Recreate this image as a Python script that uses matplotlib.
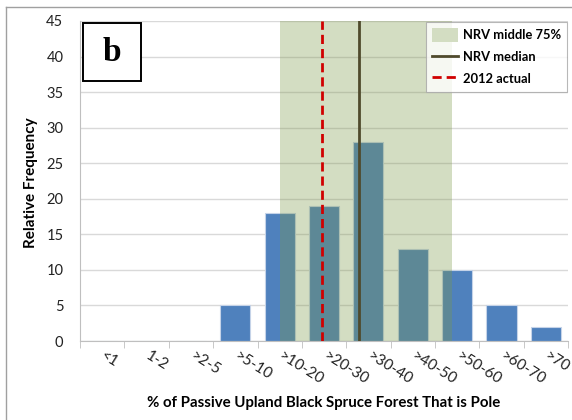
import numpy as np
import matplotlib.pyplot as plt
from matplotlib.patches import Patch, Rectangle
from matplotlib.lines import Line2D

plt.rcParams['font.family'] = ['Lato', 'DejaVu Sans']

# Data
categories = ['<1', '1-2', '>2-5', '>5-10', '>10-20', '>20-30', '>30-40',
              '>40-50', '>50-60', '>60-70', '>70']
frequency = [0, 0, 0, 5, 18, 19, 28, 13, 10, 5, 2]
nrv_range = [4.0, 7.88]   # middle 75% span, in category units
nrv_median = 5.78
actual_2012 = 4.95

fig = plt.figure(figsize=(5.72, 4.2), dpi=100)
ax = fig.add_axes([0.14, 0.188, 0.853, 0.762])

x = np.arange(len(categories))
ax.bar(x, frequency, width=0.68, color='#4F81BD', edgecolor='#c5d3e8',
       linewidth=0.8, zorder=2)

# shaded range on top of the bars (semi transparent)
ax.axvspan(nrv_range[0], nrv_range[1], color='#7C9949', alpha=0.335,
           lw=0, zorder=3)
ax.axvline(nrv_median, color='#4F4A2C', lw=2, zorder=4)
ax.axvline(actual_2012, color='#D00000', lw=2, ls=(0, (3.3, 1.8)), zorder=4)

ax.set_xlim(-0.5, len(categories) - 0.5)
ax.set_ylim(0, 45)
ax.set_yticks(range(0, 46, 5))
ax.grid(axis='y', color='#D9D9D9', lw=1, zorder=0)
ax.set_axisbelow(True)

ax.set_xticks(x)
ax.set_xticklabels(categories, rotation=-32, rotation_mode='anchor',
                   ha='left', va='center', fontsize=11, color='#222222')
ax.set_xticks(np.arange(-0.5, len(categories), 1), minor=True)
ax.tick_params(axis='x', which='major', length=0, pad=10)
ax.tick_params(axis='x', which='minor', length=5, color='#BFBFBF')
ax.tick_params(axis='y', length=0, labelsize=10.5, labelcolor='#222222', pad=12)

for s in ['top', 'right']:
    ax.spines[s].set_visible(False)
for s in ['left', 'bottom']:
    ax.spines[s].set_color('#BFBFBF')

ax.set_ylabel('Relative Frequency', fontsize=11, fontweight='bold')
ax.yaxis.set_label_coords(-0.086, 0.495)
ax.set_xlabel('% of Passive Upland Black Spruce Forest That is Pole',
              fontsize=10.8, fontweight='bold')
ax.xaxis.set_label_coords(0.5, -0.172)

handles = [Patch(facecolor='#D3DDC2', edgecolor='none', label='NRV middle 75%'),
           Line2D([0], [0], color='#4F4A2C', lw=2, label='NRV median'),
           Line2D([0], [0], color='#D00000', lw=2, ls=(0, (3.3, 1.8)), label='2012 actual')]
leg = ax.legend(handles=handles, loc='upper right', bbox_to_anchor=(1.0, 1.0),
                prop={'weight': 'bold', 'size': 9.3},
                frameon=True, fancybox=False, edgecolor='#A6A6A6',
                borderpad=0.45, handlelength=2.0, handleheight=1.3,
                handletextpad=0.4, labelspacing=0.6, borderaxespad=0.1)
leg.get_frame().set_linewidth(0.8)
leg.set_zorder(6)

# panel letter box
ax.add_patch(Rectangle((0.006, 0.8125), 0.119, 0.1815, transform=ax.transAxes,
                       facecolor='white', edgecolor='black', lw=1.4, zorder=7))
ax.text(0.066, 0.903, 'b', transform=ax.transAxes, ha='center', va='center',
        fontsize=24, fontweight='bold', family='Liberation Serif', zorder=8)

# outer frame (left and top edges visible)
fig.add_artist(Line2D([0.011, 0.011], [0, 0.983], color='#A0A0A0', lw=1,
                      transform=fig.transFigure))
fig.add_artist(Line2D([0.011, 1.0], [0.983, 0.983], color='#A0A0A0', lw=1,
                      transform=fig.transFigure))

fig.savefig('out.png', dpi=100)
